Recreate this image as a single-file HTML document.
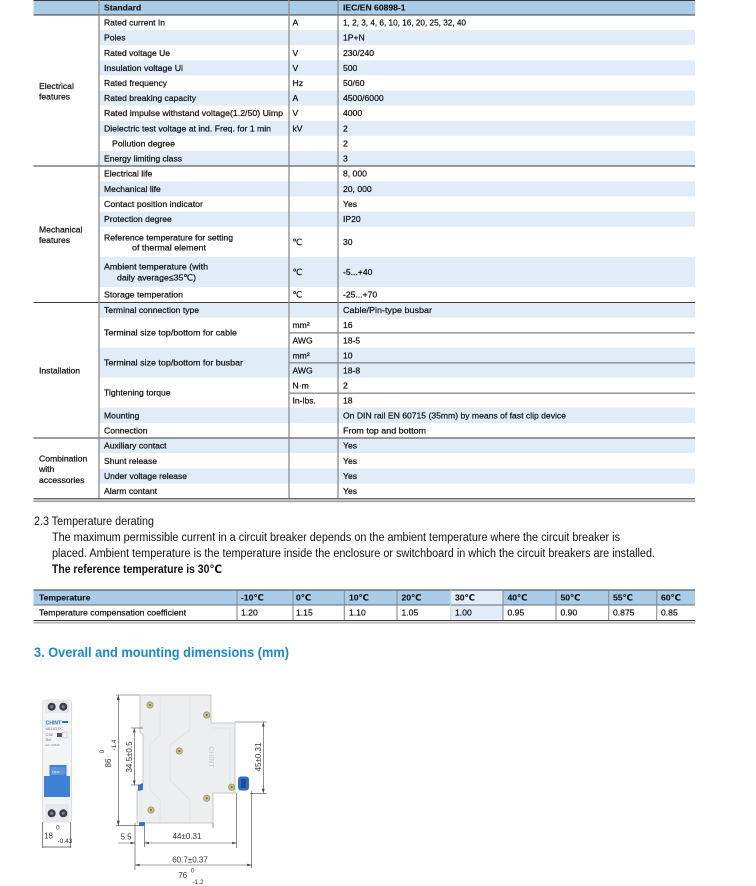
<!DOCTYPE html>
<html><head><meta charset="utf-8"><style>
html,body{margin:0;padding:0;background:#fff;}
svg{display:block;}
text{font-family:"Liberation Sans","DejaVu Sans","Noto Sans CJK SC",sans-serif;fill:#111;}
.t{font-size:8.6px;stroke:#111;stroke-width:0.22px;}
.b{font-weight:bold;stroke-width:0.1px;}
.d{font-size:8px;fill:#333;}
.ds{font-size:6.5px;fill:#333;}
</style></head><body>
<svg width="756" height="886" viewBox="0 0 756 886" xmlns="http://www.w3.org/2000/svg">
<!-- ===== Main table ===== -->
<rect x="33.5" y="0" width="661.5" height="15" fill="#a9cce9"/>
<g fill="#e0ecf7">
<rect x="99" y="30.1" width="596" height="15.1"/>
<rect x="99" y="60.3" width="596" height="15.1"/>
<rect x="99" y="90.5" width="596" height="15.1"/>
<rect x="99" y="120.7" width="596" height="15.1"/>
<rect x="99" y="150.9" width="596" height="15.1"/>
<rect x="99" y="181.3" width="596" height="15.2"/>
<rect x="99" y="211.7" width="596" height="15.1"/>
<rect x="99" y="257" width="596" height="30"/>
<rect x="99" y="302.7" width="596" height="15"/>
<rect x="99" y="347.7" width="596" height="30"/>
<rect x="99" y="407.7" width="596" height="15.3"/>
<rect x="99" y="438" width="596" height="15"/>
<rect x="99" y="468.5" width="596" height="15.2"/>
</g>
<g stroke="#3a3a3a" stroke-width="1.1">
<line x1="33.5" y1="0.5" x2="695" y2="0.5"/>
<line x1="33.5" y1="15" x2="695" y2="15"/>
<line x1="33.5" y1="166" x2="695" y2="166"/>
<line x1="33.5" y1="302.5" x2="695" y2="302.5"/>
<line x1="33.5" y1="438" x2="695" y2="438"/>
<line x1="33.5" y1="498.8" x2="695" y2="498.8"/>
</g>
<line x1="33.5" y1="501.3" x2="695" y2="501.3" stroke="#9a9a9a" stroke-width="1.6"/>
<g stroke="#8c8c8c" stroke-width="1.3">
<line x1="99" y1="0" x2="99" y2="498.5"/>
<line x1="289" y1="0" x2="289" y2="498.5"/>
<line x1="338" y1="0" x2="338" y2="498.5"/>
<line x1="289" y1="332.8" x2="695" y2="332.8"/>
<line x1="289" y1="362.8" x2="695" y2="362.8"/>
<line x1="289" y1="393.2" x2="695" y2="393.2"/>
</g>
<text class="t b" x="104" y="10.6">Standard</text>
<text class="t b" x="343" y="10.6">IEC/EN 60898-1</text>
<text class="t" x="39" y="89">Electrical</text>
<text class="t" x="39" y="99.7">features</text>
<text class="t" x="39" y="232.3">Mechanical</text>
<text class="t" x="39" y="243">features</text>
<text class="t" x="39" y="373.7">Installation</text>
<text class="t" x="39" y="461.3">Combination</text>
<text class="t" x="39" y="472">with</text>
<text class="t" x="39" y="483">accessories</text>
<text class="t" x="104" y="25.6" textLength="61" lengthAdjust="spacingAndGlyphs">Rated current In</text>
<text class="t" x="292.5" y="25.6">A</text>
<text class="t" x="343" y="25.6" textLength="123" lengthAdjust="spacingAndGlyphs">1, 2, 3, 4, 6, 10, 16, 20, 25, 32, 40</text>
<text class="t" x="104" y="40.7">Poles</text>
<text class="t" x="343" y="40.7">1P+N</text>
<text class="t" x="104" y="55.8" textLength="66" lengthAdjust="spacingAndGlyphs">Rated voltage Ue</text>
<text class="t" x="292.5" y="55.8">V</text>
<text class="t" x="343" y="55.8">230/240</text>
<text class="t" x="104" y="70.9" textLength="79" lengthAdjust="spacingAndGlyphs">Insulation voltage Ui</text>
<text class="t" x="292.5" y="70.9">V</text>
<text class="t" x="343" y="70.9">500</text>
<text class="t" x="104" y="86">Rated frequency</text>
<text class="t" x="292.5" y="86">Hz</text>
<text class="t" x="343" y="86">50/60</text>
<text class="t" x="104" y="101.1" textLength="92" lengthAdjust="spacingAndGlyphs">Rated breaking capacity</text>
<text class="t" x="292.5" y="101.1">A</text>
<text class="t" x="343" y="101.1">4500/6000</text>
<text class="t" x="104" y="116.2" textLength="179" lengthAdjust="spacingAndGlyphs">Rated impulse withstand voltage(1.2/50) Uimp</text>
<text class="t" x="292.5" y="116.2">V</text>
<text class="t" x="343" y="116.2">4000</text>
<text class="t" x="104" y="131.3" textLength="167" lengthAdjust="spacingAndGlyphs">Dielectric test voltage at ind. Freq. for 1 min</text>
<text class="t" x="292.5" y="131.3">kV</text>
<text class="t" x="343" y="131.3">2</text>
<text class="t" x="112" y="146.4" textLength="63" lengthAdjust="spacingAndGlyphs">Pollution degree</text>
<text class="t" x="343" y="146.4">2</text>
<text class="t" x="104" y="161.5" textLength="78" lengthAdjust="spacingAndGlyphs">Energy limiting class</text>
<text class="t" x="343" y="161.5">3</text>
<text class="t" x="104" y="176.7">Electrical life</text>
<text class="t" x="343" y="176.7">8, 000</text>
<text class="t" x="104" y="192">Mechanical life</text>
<text class="t" x="343" y="192">20, 000</text>
<text class="t" x="104" y="207" textLength="99" lengthAdjust="spacingAndGlyphs">Contact position indicator</text>
<text class="t" x="343" y="207">Yes</text>
<text class="t" x="104" y="222.2">Protection degree</text>
<text class="t" x="343" y="222.2">IP20</text>
<text class="t" x="104" y="240.3" textLength="129" lengthAdjust="spacingAndGlyphs">Reference temperature for setting</text>
<text class="t" x="132" y="250.7" textLength="74" lengthAdjust="spacingAndGlyphs">of thermal element</text>
<text class="t" x="292.5" y="245">℃</text>
<text class="t" x="343" y="245">30</text>
<text class="t" x="104" y="269.7" textLength="104" lengthAdjust="spacingAndGlyphs">Ambient temperature (with</text>
<text class="t" x="117" y="280.3" textLength="79" lengthAdjust="spacingAndGlyphs">daily average≤35℃)</text>
<text class="t" x="292.5" y="275">℃</text>
<text class="t" x="343" y="275">-5...+40</text>
<text class="t" x="104" y="297.7" textLength="79" lengthAdjust="spacingAndGlyphs">Storage temperation</text>
<text class="t" x="292.5" y="297.7">℃</text>
<text class="t" x="343" y="297.7">-25...+70</text>
<text class="t" x="104" y="313">Terminal connection type</text>
<text class="t" x="343" y="313" textLength="89" lengthAdjust="spacingAndGlyphs">Cable/Pin-type busbar</text>
<text class="t" x="104" y="335.5" textLength="133" lengthAdjust="spacingAndGlyphs">Terminal size top/bottom for cable</text>
<text class="t" x="292.5" y="328">mm²</text>
<text class="t" x="343" y="328">16</text>
<text class="t" x="292.5" y="343.7">AWG</text>
<text class="t" x="343" y="343.7">18-5</text>
<text class="t" x="104" y="365.5" textLength="139" lengthAdjust="spacingAndGlyphs">Terminal size top/bottom for busbar</text>
<text class="t" x="292.5" y="358.7">mm²</text>
<text class="t" x="343" y="358.7">10</text>
<text class="t" x="292.5" y="373.7">AWG</text>
<text class="t" x="343" y="373.7">18-8</text>
<text class="t" x="104" y="395.7">Tightening torque</text>
<text class="t" x="292.5" y="388.7">N·m</text>
<text class="t" x="343" y="388.7">2</text>
<text class="t" x="292.5" y="403.7">In-lbs.</text>
<text class="t" x="343" y="403.7">18</text>
<text class="t" x="104" y="418.3">Mounting</text>
<text class="t" x="343" y="418.3" textLength="223" lengthAdjust="spacingAndGlyphs">On DIN rail EN 60715 (35mm) by means of fast clip device</text>
<text class="t" x="104" y="433.3">Connection</text>
<text class="t" x="343" y="433.3" textLength="83" lengthAdjust="spacingAndGlyphs">From top and bottom</text>
<text class="t" x="104" y="448.5">Auxiliary contact</text>
<text class="t" x="343" y="448.5">Yes</text>
<text class="t" x="104" y="464">Shunt release</text>
<text class="t" x="343" y="464">Yes</text>
<text class="t" x="104" y="479" textLength="83" lengthAdjust="spacingAndGlyphs">Under voltage release</text>
<text class="t" x="343" y="479">Yes</text>
<text class="t" x="104" y="494">Alarm contant</text>
<text class="t" x="343" y="494">Yes</text>

<text x="34" y="525" style="font-size:11.5px" textLength="120" lengthAdjust="spacingAndGlyphs">2.3 Temperature derating</text>
<text x="52" y="541" style="font-size:11.5px" textLength="568" lengthAdjust="spacingAndGlyphs">The maximum permissible current in a circuit breaker depends on the ambient temperature where the circuit breaker is</text>
<text x="52" y="557" style="font-size:11.5px" textLength="603" lengthAdjust="spacingAndGlyphs">placed. Ambient temperature is the temperature inside the enclosure or switchboard in which the circuit breakers are installed.</text>
<text x="52" y="573" style="font-size:11.5px;font-weight:bold" textLength="170" lengthAdjust="spacingAndGlyphs">The reference temperature is 30℃</text>

<rect x="33.5" y="590" width="661.5" height="15" fill="#a9cce9"/>
<rect x="450.7" y="590" width="52.3" height="29.5" fill="#e0ecf7"/>
<line x1="33.5" y1="590" x2="695" y2="590" stroke="#3a3a3a" stroke-width="1.1"/>
<line x1="33.5" y1="605" x2="695" y2="605" stroke="#6a6a6a" stroke-width="0.9"/>
<line x1="33.5" y1="620.6" x2="695" y2="620.6" stroke="#3a3a3a" stroke-width="1.1"/>
<line x1="33.5" y1="622.8" x2="695" y2="622.8" stroke="#9a9a9a" stroke-width="1.2"/>
<g stroke="#8c8c8c" stroke-width="1.1">
<line x1="237" y1="590" x2="237" y2="620"/>
<line x1="293" y1="590" x2="293" y2="620"/>
<line x1="344.3" y1="590" x2="344.3" y2="620"/>
<line x1="397" y1="590" x2="397" y2="620"/>
<line x1="503" y1="590" x2="503" y2="620"/>
<line x1="556" y1="590" x2="556" y2="620"/>
<line x1="608.7" y1="590" x2="608.7" y2="620"/>
<line x1="656.7" y1="590" x2="656.7" y2="620"/>
</g>
<line x1="450.7" y1="590" x2="450.7" y2="620" stroke="#c6d6e6" stroke-width="1"/>
<text class="t b" x="39" y="600.6">Temperature</text>
<text class="t b" x="241" y="600.6">-10℃</text>
<text class="t b" x="296" y="600.6">0℃</text>
<text class="t b" x="349" y="600.6">10℃</text>
<text class="t b" x="401.5" y="600.6">20℃</text>
<text class="t b" x="455" y="600.6">30℃</text>
<text class="t b" x="507.5" y="600.6">40℃</text>
<text class="t b" x="560.5" y="600.6">50℃</text>
<text class="t b" x="613" y="600.6">55℃</text>
<text class="t b" x="661" y="600.6">60℃</text>
<text class="t" x="39" y="615.3" textLength="147" lengthAdjust="spacingAndGlyphs">Temperature compensation coefficient</text>
<text class="t" x="241" y="615.3">1.20</text>
<text class="t" x="296" y="615.3">1.15</text>
<text class="t" x="349" y="615.3">1.10</text>
<text class="t" x="401.5" y="615.3">1.05</text>
<text class="t" x="455" y="615.3">1.00</text>
<text class="t" x="507.5" y="615.3">0.95</text>
<text class="t" x="560.5" y="615.3">0.90</text>
<text class="t" x="613" y="615.3">0.875</text>
<text class="t" x="661" y="615.3">0.85</text>

<text x="34" y="657" style="font-size:13.5px;font-weight:bold;fill:#1b88cf" textLength="255" lengthAdjust="spacingAndGlyphs">3. Overall and mounting dimensions (mm)</text>

<rect x="42.7" y="700" width="29" height="122" rx="3" fill="#f3f4f6" stroke="#d3d5d8" stroke-width="0.8"/>
<rect x="45" y="701" width="24" height="12" rx="2" fill="#e6e8eb"/>
<circle cx="51.7" cy="706.7" r="4" fill="#3b3f45"/>
<circle cx="63.3" cy="706.7" r="4" fill="#3b3f45"/>
<circle cx="51.7" cy="706.7" r="1.6" fill="#7d8288"/>
<circle cx="63.3" cy="706.7" r="1.6" fill="#6f7e92"/>
<text x="45.5" y="724.5" style="font-size:5.2px;font-weight:bold;fill:#2c6fc6">CHINT</text>
<rect x="62" y="721" width="6" height="2" fill="#2c6fc6"/>
<text x="45.5" y="730" style="font-size:3.4px;fill:#777">NB1-63 DC</text>
<text x="45.5" y="736" style="font-size:4px;fill:#666">C32</text>
<rect x="57" y="733" width="5" height="4" fill="#555"/>
<rect x="62" y="732" width="5" height="6" fill="none" stroke="#999" stroke-width="0.4"/>
<text x="45.5" y="741" style="font-size:3.4px;fill:#777">3kA</text>
<text x="45.5" y="746" style="font-size:3px;fill:#888">IEC 60898</text>
<path d="M49.5,765 L66.5,765 L66.5,776 L70,776 L70,797 L44,797 L44,776 L49.5,776 Z" fill="#3f82d4"/>
<rect x="51" y="767" width="14" height="8" fill="#5b96dc"/>
<text x="52" y="773.5" style="font-size:4px;fill:#fff">OFF</text>
<rect x="45" y="804" width="24" height="17" rx="2" fill="#e6e8eb"/>
<circle cx="51.7" cy="813.3" r="4" fill="#3b3f45"/>
<circle cx="63.3" cy="813.3" r="4" fill="#3b3f45"/>
<circle cx="51.7" cy="813.3" r="1.6" fill="#7d8288"/>
<circle cx="63.3" cy="813.3" r="1.6" fill="#6f7e92"/>
<g stroke="#444" stroke-width="0.7">
<line x1="42.7" y1="822" x2="42.7" y2="848"/>
<line x1="70.7" y1="822" x2="70.7" y2="848"/>
<line x1="42.7" y1="847" x2="70.7" y2="847"/>
</g>
<text class="d" x="44" y="838.5">18</text>
<text class="ds" x="56" y="829.5">0</text>
<text class="ds" x="57.5" y="843">-0.43</text>

<path d="M140,697 Q140,695 142,695 L211,695 L211,723 L235,723 L235,793 L213,793 L213,823 L137,823 L137,790 L143,784 L143,735 L140,732 Z" fill="#eceef0" stroke="#b8bbc0" stroke-width="0.8"/>
<path d="M160,697 L160,735 L150,745 L150,790 L160,800 L160,822" fill="none" stroke="#dfe1e4" stroke-width="0.8"/>
<path d="M190,697 L190,730 L170,745 L170,780 L190,800 L190,822" fill="none" stroke="#dfe1e4" stroke-width="0.8"/>
<path d="M213,728 L230,728 L230,790" fill="none" stroke="#dfe1e4" stroke-width="0.8"/>
<text transform="translate(209,757) rotate(90)" text-anchor="middle" style="font-size:7px;fill:#d0d3d6;font-weight:bold">CHINT</text>
<g fill="#c9bf93" stroke="#8e8460" stroke-width="0.6">
<circle cx="150" cy="705" r="3.2"/>
<circle cx="206.7" cy="715" r="3.2"/>
<circle cx="179.3" cy="751" r="3.2"/>
<circle cx="231.7" cy="787.3" r="3.2"/>
<circle cx="206.7" cy="798.3" r="3.2"/>
<circle cx="151" cy="810" r="3.2"/>
</g>
<g fill="#6e6440">
<circle cx="150" cy="705" r="1"/>
<circle cx="206.7" cy="715" r="1"/>
<circle cx="179.3" cy="751" r="1"/>
<circle cx="231.7" cy="787.3" r="1"/>
<circle cx="206.7" cy="798.3" r="1"/>
<circle cx="151" cy="810" r="1"/>
</g>
<rect x="238" y="776.5" width="11" height="14" rx="3" fill="#2f6fc2"/>
<rect x="241" y="779" width="5" height="9" rx="1" fill="#1c4f96"/>
<path d="M138,785 L143,783 L143,790 L138,791 Z" fill="#3676c8"/>
<rect x="139" y="822" width="6" height="4" rx="1" fill="#3676c8"/>
<g stroke="#444" stroke-width="0.6" fill="none">
<line x1="116" y1="695" x2="140" y2="695"/>
<line x1="116" y1="825.7" x2="140" y2="825.7"/>
<line x1="118.3" y1="695" x2="118.3" y2="825.7"/>
<line x1="131" y1="728" x2="143" y2="728"/>
<line x1="131" y1="785" x2="139" y2="785"/>
<line x1="134.3" y1="728" x2="134.3" y2="785"/>
<line x1="235" y1="722" x2="266.7" y2="722"/>
<line x1="250" y1="793.3" x2="266.7" y2="793.3"/>
<line x1="263.3" y1="722" x2="263.3" y2="793.3"/>
<line x1="135" y1="823" x2="135" y2="870"/>
<line x1="144.3" y1="826" x2="144.3" y2="847"/>
<line x1="236.7" y1="793" x2="236.7" y2="848"/>
<line x1="251.7" y1="791" x2="251.7" y2="868"/>
<line x1="213" y1="823" x2="213" y2="828"/>
<line x1="118" y1="843" x2="135" y2="843"/>
<line x1="144.3" y1="843" x2="236.7" y2="843"/>
<line x1="135" y1="865" x2="251.7" y2="865"/>
</g>
<g fill="#444">
<path d="M118.3,695 l-1.5,5 l3,0 Z"/>
<path d="M118.3,825.7 l-1.5,-5 l3,0 Z"/>
<path d="M134.3,728 l-1.3,4.5 l2.6,0 Z"/>
<path d="M134.3,785 l-1.3,-4.5 l2.6,0 Z"/>
<path d="M263.3,722 l-1.4,4.5 l2.8,0 Z"/>
<path d="M263.3,793.3 l-1.4,-4.5 l2.8,0 Z"/>
<path d="M135,843 l-4.5,-1.3 l0,2.6 Z"/>
<path d="M144.3,843 l4.5,-1.3 l0,2.6 Z"/>
<path d="M236.7,843 l-4.5,-1.3 l0,2.6 Z"/>
<path d="M135,865 l4.5,-1.3 l0,2.6 Z"/>
<path d="M251.7,865 l-4.5,-1.3 l0,2.6 Z"/>
</g>
<text class="d" transform="translate(108.5,763) rotate(-90)" text-anchor="middle" dominant-baseline="central">86</text>
<text class="ds" transform="translate(102.7,751.5) rotate(-90)" text-anchor="middle" dominant-baseline="central">0</text>
<text class="ds" transform="translate(114.3,745) rotate(-90)" text-anchor="middle" dominant-baseline="central">-1.4</text>
<text class="d" transform="translate(129.5,757) rotate(-90)" text-anchor="middle" dominant-baseline="central">34.5±0.5</text>
<text class="d" transform="translate(258.5,757) rotate(-90)" text-anchor="middle" dominant-baseline="central">45±0.31</text>
<text class="d" x="126" y="839.5" text-anchor="middle">5.5</text>
<text class="d" x="187" y="839" text-anchor="middle">44±0.31</text>
<text class="d" x="190" y="862.5" text-anchor="middle">60.7±0.37</text>
<text class="d" x="182.7" y="878" text-anchor="middle">76</text>
<text class="ds" x="192.7" y="872.5" text-anchor="middle">0</text>
<text class="ds" x="198" y="884" text-anchor="middle">-1.2</text>
</svg>
</body></html>
